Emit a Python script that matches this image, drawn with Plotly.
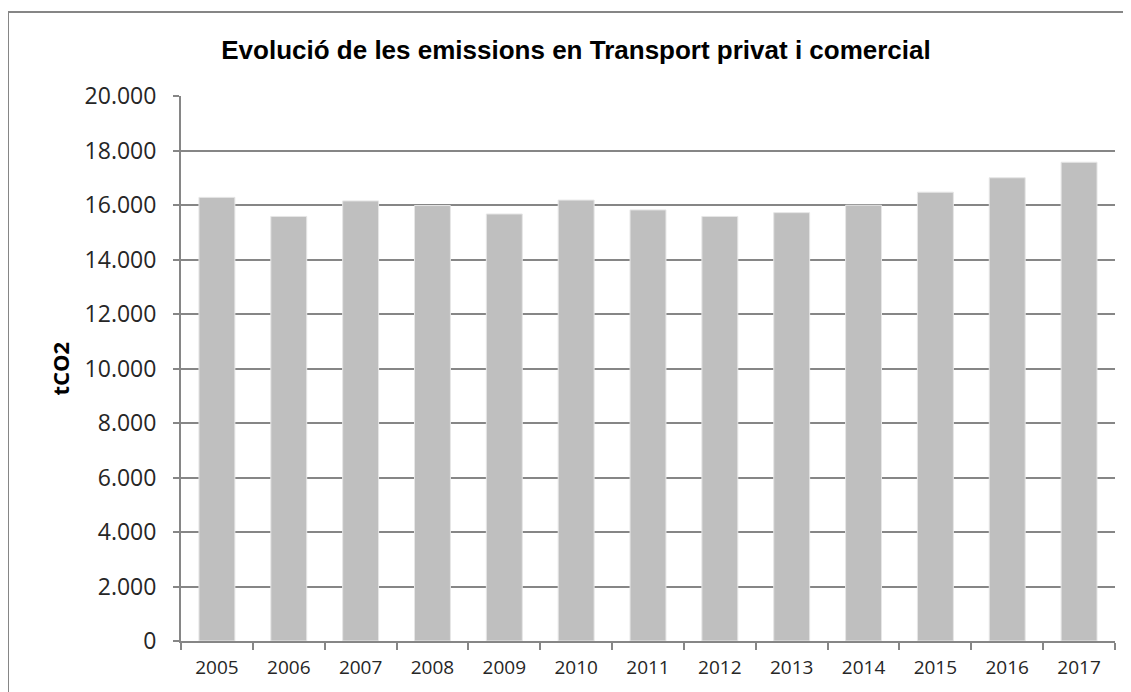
import plotly.graph_objects as go

# Data
years = ['2005', '2006', '2007', '2008', '2009', '2010', '2011',
         '2012', '2013', '2014', '2015', '2016', '2017']
emissions = [16280, 15580, 16150, 15980, 15670, 16180, 15820,
             15580, 15720, 15990, 16470, 17000, 17570]
y_ticks = [0, 2000, 4000, 6000, 8000, 10000, 12000, 14000, 16000, 18000, 20000]
y_tick_labels = ['0', '2.000', '4.000', '6.000', '8.000', '10.000', '12.000',
                 '14.000', '16.000', '18.000', '20.000']

GRID = '#868686'

fig = go.Figure()

fig.add_trace(go.Bar(
    x=years,
    y=emissions,
    marker=dict(color='#bfbfbf', line=dict(color='#e6e6e6', width=1)),
    hovertemplate='%{x}: %{y:,.0f} tCO2<extra></extra>'
))

# the page body adds an 8px offset, so margins are shifted to compensate
fig.update_layout(
    width=1131,
    height=692,
    margin=dict(l=173, r=24, t=88, b=59),
    paper_bgcolor='white',
    plot_bgcolor='white',
    showlegend=False,
    bargap=0.5,
    font=dict(family='Open Sans, sans-serif', color='#262626'),
    title=dict(
        text='<b>Evolució de les emissions en Transport privat i comercial</b>',
        font=dict(family='Liberation Sans, Arial, sans-serif', size=26, color='black'),
        x=568 / 1131, xanchor='center',
        y=1 - 42 / 692, yanchor='middle'
    ),
    xaxis=dict(
        showline=True, linecolor=GRID, linewidth=2,
        ticks='outside', tickson='boundaries', ticklen=7, tickwidth=2, tickcolor=GRID,
        ticklabelstandoff=8,
        tickfont=dict(size=19),
        showgrid=False
    ),
    yaxis=dict(
        range=[0, 20000],
        tickvals=y_ticks, ticktext=y_tick_labels,
        showline=True, linecolor=GRID, linewidth=2,
        ticks='outside', ticklen=6, tickwidth=2, tickcolor=GRID,
        ticklabelstandoff=12,
        tickfont=dict(size=23),
        showgrid=True, gridcolor=GRID, gridwidth=2,
        zeroline=False
    ),
    annotations=[dict(
        text='<b>tCO2</b>', textangle=-90,
        xref='paper', yref='paper',
        x=(59 - 181) / 934, y=0.5,
        xanchor='center', yanchor='middle',
        showarrow=False,
        font=dict(size=22, color='black')
    )],
    shapes=[dict(
        type='rect', xref='paper', yref='paper',
        x0=(8 - 181) / 934, x1=1.05,
        y0=-0.2, y1=(641 - 12) / 545,
        line=dict(color=GRID, width=2),
        fillcolor='rgba(0,0,0,0)', layer='below'
    )]
)

fig.write_html("out.html")
